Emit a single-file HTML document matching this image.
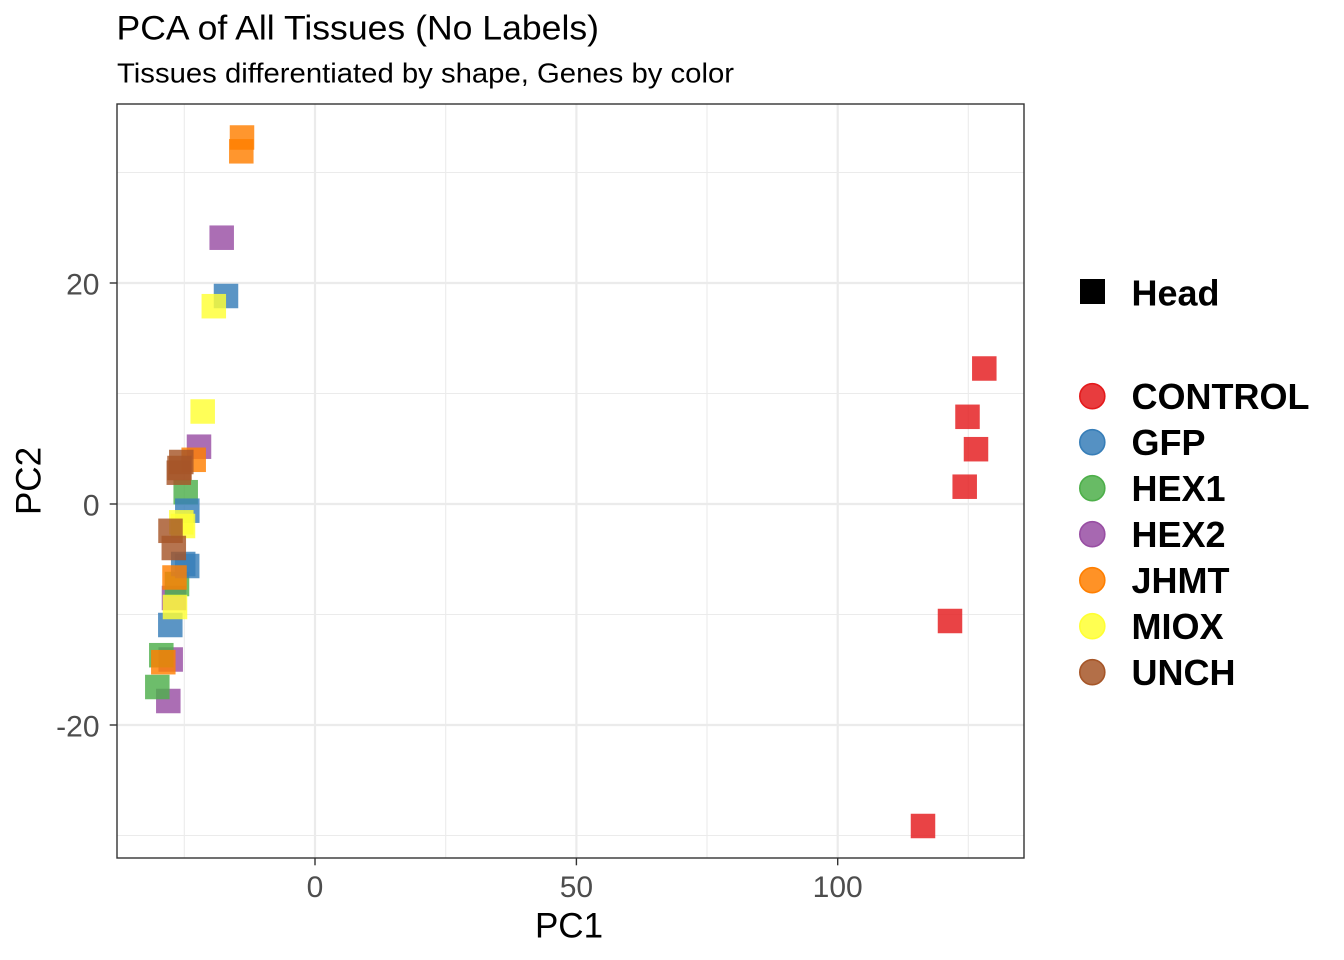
<!DOCTYPE html>
<html>
<head>
<meta charset="utf-8">
<style>
html,body{margin:0;padding:0;background:#fff;}
svg{display:block;}
text{font-family:"Liberation Sans",Arial,Helvetica,sans-serif;}
</style>
</head>
<body>
<svg width="1344" height="960" viewBox="0 0 1344 960" xmlns="http://www.w3.org/2000/svg">
<rect x="0" y="0" width="1344" height="960" fill="#ffffff"/>

<!-- Titles -->
<text x="116.5" y="39.3" font-size="34" fill="#000" textLength="482.5" lengthAdjust="spacingAndGlyphs">PCA of All Tissues (No Labels)</text>
<text x="117" y="82.3" font-size="28" fill="#000" textLength="617" lengthAdjust="spacingAndGlyphs">Tissues differentiated by shape, Genes by color</text>

<!-- Panel background -->
<rect x="117" y="104" width="907" height="754" fill="#ffffff"/>

<!-- Minor gridlines -->
<g stroke="#EBEBEB" stroke-width="1.1">
<line x1="184.3" y1="104" x2="184.3" y2="858"/>
<line x1="445.7" y1="104" x2="445.7" y2="858"/>
<line x1="707" y1="104" x2="707" y2="858"/>
<line x1="968.3" y1="104" x2="968.3" y2="858"/>
<line x1="117" y1="172.5" x2="1024" y2="172.5"/>
<line x1="117" y1="393.5" x2="1024" y2="393.5"/>
<line x1="117" y1="614.5" x2="1024" y2="614.5"/>
<line x1="117" y1="835.5" x2="1024" y2="835.5"/>
</g>
<!-- Major gridlines -->
<g stroke="#EBEBEB" stroke-width="2.2">
<line x1="315" y1="104" x2="315" y2="858"/>
<line x1="576.4" y1="104" x2="576.4" y2="858"/>
<line x1="837.7" y1="104" x2="837.7" y2="858"/>
<line x1="117" y1="283" x2="1024" y2="283"/>
<line x1="117" y1="504" x2="1024" y2="504"/>
<line x1="117" y1="725" x2="1024" y2="725"/>
</g>

<!-- Points (squares, 24.5px), per-point alpha -->
<g fill-opacity="0.82">
<!-- purple -->
<rect x="209.45" y="225.45" width="24.5" height="24.5" fill="#984EA3"/>
<rect x="186.75" y="434.45" width="24.5" height="24.5" fill="#984EA3"/>
<rect x="161.75" y="585.75" width="24.5" height="24.5" fill="#984EA3"/>
<rect x="158.45" y="647.25" width="24.5" height="24.5" fill="#984EA3"/>
<rect x="156.05" y="688.75" width="24.5" height="24.5" fill="#984EA3"/>
<!-- green -->
<rect x="173.45" y="479.95" width="24.5" height="24.5" fill="#4DAF4A"/>
<rect x="164.75" y="571.75" width="24.5" height="24.5" fill="#4DAF4A"/>
<rect x="149.05" y="642.95" width="24.5" height="24.5" fill="#4DAF4A"/>
<rect x="145.05" y="674.75" width="24.5" height="24.5" fill="#4DAF4A"/>
<!-- blue -->
<rect x="213.75" y="283.75" width="24.5" height="24.5" fill="#377EB8"/>
<rect x="175.05" y="498.45" width="24.5" height="24.5" fill="#377EB8"/>
<rect x="170.95" y="551.75" width="24.5" height="24.5" fill="#377EB8"/>
<rect x="174.95" y="553.75" width="24.5" height="24.5" fill="#377EB8"/>
<rect x="158.05" y="612.75" width="24.5" height="24.5" fill="#377EB8"/>
<!-- orange -->
<rect x="229.75" y="125.25" width="24.5" height="24.5" fill="#FF7F00"/>
<rect x="229.05" y="139.05" width="24.5" height="24.5" fill="#FF7F00"/>
<rect x="181.45" y="447.55" width="24.5" height="24.5" fill="#FF7F00"/>
<rect x="162.25" y="565.25" width="24.5" height="24.5" fill="#FF7F00"/>
<rect x="151.05" y="649.95" width="24.5" height="24.5" fill="#FF7F00"/>
<!-- yellow -->
<rect x="201.55" y="293.95" width="24.5" height="24.5" fill="#FFFF33"/>
<rect x="190.45" y="399.25" width="24.5" height="24.5" fill="#FFFF33"/>
<rect x="169.05" y="510.05" width="24.5" height="24.5" fill="#FFFF33"/>
<rect x="170.75" y="513.75" width="24.5" height="24.5" fill="#FFFF33"/>
<rect x="162.75" y="594.75" width="24.5" height="24.5" fill="#FFFF33"/>
<!-- brown -->
<rect x="169.05" y="449.75" width="24.5" height="24.5" fill="#A65628"/>
<rect x="167.25" y="455.75" width="24.5" height="24.5" fill="#A65628"/>
<rect x="166.55" y="460.45" width="24.5" height="24.5" fill="#A65628"/>
<rect x="158.25" y="518.55" width="24.5" height="24.5" fill="#A65628"/>
<rect x="161.55" y="535.75" width="24.5" height="24.5" fill="#A65628"/>
<!-- red -->
<rect x="972.05" y="356.25" width="24.5" height="24.5" fill="#E41A1C"/>
<rect x="955.25" y="404.55" width="24.5" height="24.5" fill="#E41A1C"/>
<rect x="963.75" y="436.95" width="24.5" height="24.5" fill="#E41A1C"/>
<rect x="952.45" y="474.45" width="24.5" height="24.5" fill="#E41A1C"/>
<rect x="937.75" y="608.75" width="24.5" height="24.5" fill="#E41A1C"/>
<rect x="910.75" y="813.75" width="24.5" height="24.5" fill="#E41A1C"/>
</g>

<!-- Panel border -->
<rect x="117" y="104" width="907" height="754" fill="none" stroke="#333333" stroke-width="1.4"/>

<!-- Ticks -->
<g stroke="#333333" stroke-width="1.4">
<line x1="315" y1="858" x2="315" y2="865.3"/>
<line x1="576.4" y1="858" x2="576.4" y2="865.3"/>
<line x1="837.7" y1="858" x2="837.7" y2="865.3"/>
<line x1="109.7" y1="283" x2="117" y2="283"/>
<line x1="109.7" y1="504" x2="117" y2="504"/>
<line x1="109.7" y1="725" x2="117" y2="725"/>
</g>

<!-- Tick labels -->
<g font-size="30" fill="#4D4D4D">
<text x="315" y="897" text-anchor="middle">0</text>
<text x="576.4" y="897" text-anchor="middle">50</text>
<text x="837.7" y="897" text-anchor="middle">100</text>
<text x="99.5" y="294.5" text-anchor="end">20</text>
<text x="99.5" y="515.5" text-anchor="end">0</text>
<text x="99.5" y="736.5" text-anchor="end">-20</text>
</g>

<!-- Axis titles -->
<text x="569" y="937.3" font-size="35" fill="#000" text-anchor="middle">PC1</text>
<text x="0" y="0" font-size="35" fill="#000" text-anchor="middle" transform="translate(40.5,481) rotate(-90)">PC2</text>

<!-- Legend: shape -->
<rect x="1080" y="279" width="25" height="25" fill="#000"/>
<text x="1131.5" y="305.7" font-size="36" font-weight="bold" fill="#000">Head</text>

<!-- Legend: colour -->
<g stroke-width="1.6">
<circle cx="1092.3" cy="396.2" r="12.5" fill="#E41A1C" fill-opacity="0.85" stroke="#E41A1C"/>
<circle cx="1092.3" cy="442.2" r="12.5" fill="#377EB8" fill-opacity="0.85" stroke="#377EB8"/>
<circle cx="1092.3" cy="488.2" r="12.5" fill="#4DAF4A" fill-opacity="0.85" stroke="#4DAF4A"/>
<circle cx="1092.3" cy="534.2" r="12.5" fill="#984EA3" fill-opacity="0.85" stroke="#984EA3"/>
<circle cx="1092.3" cy="580.2" r="12.5" fill="#FF7F00" fill-opacity="0.85" stroke="#FF7F00"/>
<circle cx="1092.3" cy="626.2" r="12.5" fill="#FFFF33" fill-opacity="0.85" stroke="#FFFF33"/>
<circle cx="1092.3" cy="672.2" r="12.5" fill="#A65628" fill-opacity="0.85" stroke="#A65628"/>
</g>
<g font-size="36" font-weight="bold" fill="#000">
<text x="1131.5" y="409">CONTROL</text>
<text x="1131.5" y="455">GFP</text>
<text x="1131.5" y="501">HEX1</text>
<text x="1131.5" y="547">HEX2</text>
<text x="1131.5" y="593">JHMT</text>
<text x="1131.5" y="639">MIOX</text>
<text x="1131.5" y="685">UNCH</text>
</g>
</svg>
</body>
</html>
